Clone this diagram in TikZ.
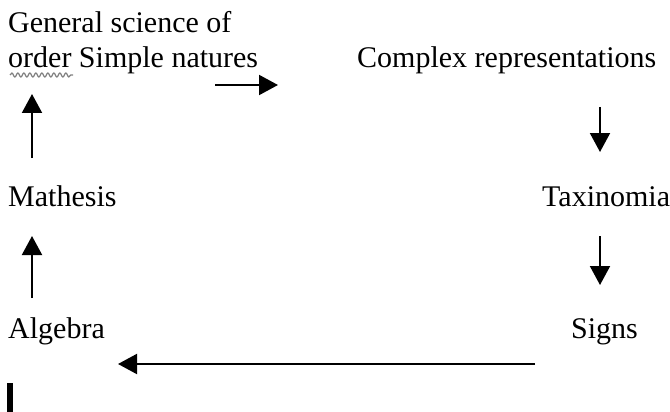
\documentclass[tikz,border=0pt]{standalone}
\usepackage{fontspec}
\setmainfont{Liberation Serif}
\usetikzlibrary{arrows.meta,decorations.pathmorphing}
\begin{document}
\begin{tikzpicture}[x=1pt,y=-1pt,
  lbl/.style={anchor=base west, inner sep=0pt, font=\fontsize{30}{34}\selectfont},
  conn/.style={line width=2pt, -{Triangle[width=20pt,length=19pt]}}]
\useasboundingbox (0,0) rectangle (670,412);
% labels
\node[lbl] (gen1) at (8,33) {General science of};
\node[lbl] (gen2) at (8,67) {order Simple natures};
\node[lbl] (complex) at (357,67) {Complex representations};
\node[lbl] (math) at (8,206) {Mathesis};
\node[lbl] (taxi) at (542,206) {Taxinomia};
\node[lbl] (alg) at (8,338) {Algebra};
\node[lbl] (signs) at (571,338) {Signs};
% spell-check squiggle under "order"
\draw[gray, line width=1.2pt, decorate, decoration={snake, amplitude=2pt, segment length=6pt}] (10,75) -- (73,75);
% arrow end points
\coordinate (r1) at (215,85);  \coordinate (r2) at (278,85);
\coordinate (d1a) at (600,107); \coordinate (d1b) at (600,152);
\coordinate (d2a) at (600,236); \coordinate (d2b) at (600,285);
\coordinate (la) at (535,364);  \coordinate (lb) at (118,364);
\coordinate (u2a) at (32,298);  \coordinate (u2b) at (32,236);
\coordinate (u1a) at (32,158);  \coordinate (u1b) at (32,94);
% connectors
\draw[conn] (r1) -- (r2);
\draw[conn] (d1a) -- (d1b);
\draw[conn] (d2a) -- (d2b);
\draw[conn] (la) -- (lb);
\draw[conn] (u2a) -- (u2b);
\draw[conn] (u1a) -- (u1b);
% cursor bar
\fill (7,383) rectangle (13,412);
\end{tikzpicture}
\end{document}
